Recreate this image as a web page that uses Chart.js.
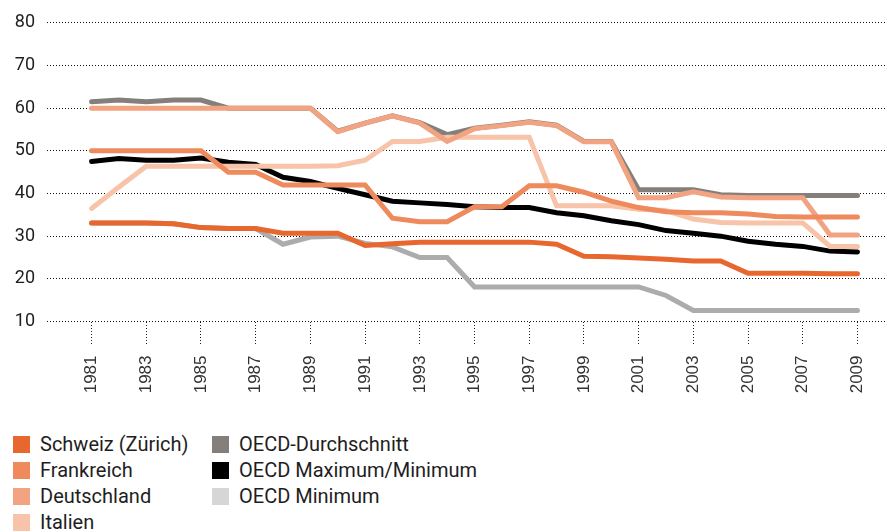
<!DOCTYPE html>
<html>
<head>
<meta charset="utf-8">
<script src="https://cdn.jsdelivr.net/npm/chart.js@4/dist/chart.umd.min.js"></script>
<style>
  html, body { margin: 0; padding: 0; background: #fff; overflow: hidden; }
  #wrap { position: absolute; left: 0; top: 0; width: 892px; height: 425px; }
  #legend {
    position: absolute; left: 13px; top: 431px;
    display: grid; grid-template-columns: 199px auto; grid-auto-flow: column;
    grid-template-rows: repeat(4, 26px);
    font-family: Roboto, sans-serif; font-size: 20px; color: #1e1e1e;
  }
  .item { display: flex; align-items: center; height: 26px; white-space: nowrap; }
  .box { width: 17px; height: 17px; margin-right: 10px; flex: none; }
</style>
</head>
<body>
<div id="wrap"><canvas id="chart"></canvas></div>
<div id="legend"></div>
<script>
const years = [1981, 1982, 1983, 1984, 1985, 1986, 1987, 1988, 1989, 1990,
  1991, 1992, 1993, 1994, 1995, 1996, 1997, 1998, 1999, 2000,
  2001, 2002, 2003, 2004, 2005, 2006, 2007, 2008, 2009];
const tickYears = [1981, 1983, 1985, 1987, 1989, 1991, 1993, 1995, 1997, 1999, 2001, 2003, 2005, 2007, 2009];
const yTicks = [10, 20, 30, 40, 50, 60, 70, 80];

const schweiz = [33.1, 33.1, 33.1, 32.9, 32.0, 31.8, 31.8, 30.7, 30.7, 30.7,
  27.8, 28.2, 28.6, 28.6, 28.6, 28.6, 28.6, 28.1, 25.3, 25.2,
  24.9, 24.6, 24.2, 24.2, 21.3, 21.3, 21.3, 21.2, 21.2];
const frankreich = [50, 50, 50, 50, 50, 45, 45, 42, 42, 42,
  42, 34.2, 33.4, 33.4, 36.9, 36.9, 41.8, 41.8, 40.3, 38.2,
  36.7, 35.7, 35.5, 35.5, 35.2, 34.6, 34.5, 34.5, 34.5];
const deutschland = [60, 60, 60, 60, 60, 60, 60, 60, 60, 54.5,
  56.5, 58.2, 56.5, 52.2, 55.2, 55.9, 56.7, 55.9, 52.1, 52.1,
  39, 39, 40.4, 39.2, 39, 39, 39, 30.3, 30.3];
const italien = [36.5, 41.5, 46.4, 46.4, 46.4, 46.4, 46.4, 46.4, 46.4, 46.5,
  47.8, 52.2, 52.2, 53.2, 53.2, 53.2, 53.2, 37.1, 37.1, 37.1,
  36.3, 36.0, 34.0, 33.2, 33.1, 33.1, 33.1, 27.6, 27.6];
const oecdAvg = [61.5, 61.9, 61.5, 61.9, 61.9, 60, 60, 60, 60, 54.6,
  56.5, 58.2, 56.6, 53.8, 55.3, 56, 56.8, 56, 52.2, 52.2,
  40.9, 40.9, 40.9, 39.7, 39.5, 39.5, 39.5, 39.5, 39.5];
const oecdMax = [47.5, 48.2, 47.8, 47.8, 48.3, 47.3, 46.8, 43.8, 42.8, 41.2,
  39.7, 38.2, 37.8, 37.4, 36.9, 36.7, 36.7, 35.5, 34.8, 33.6,
  32.7, 31.3, 30.7, 30.0, 28.8, 28.1, 27.6, 26.5, 26.3];
const oecdMin = [33.1, 33.1, 33.1, 32.9, 32.0, 31.8, 31.8, 28.1, 29.8, 30.0,
  28.3, 27.5, 25.0, 25.0, 18.1, 18.1, 18.1, 18.1, 18.1, 18.1,
  18.1, 16.1, 12.6, 12.6, 12.6, 12.6, 12.6, 12.6, 12.6];

// first entry is drawn on top
const series = [
  { label: 'Schweiz (Zürich)', data: schweiz, color: '#e8672e', box: '#e8672e' },
  { label: 'Frankreich', data: frankreich, color: '#ee8a5c', box: '#ee8a5c' },
  { label: 'Deutschland', data: deutschland, color: '#f2a482', box: '#f2a482' },
  { label: 'Italien', data: italien, color: '#f7c3a9', box: '#f7c3a9' },
  { label: 'OECD-Durchschnitt', data: oecdAvg, color: '#857f7b', box: '#857f7b' },
  { label: 'OECD Maximum/Minimum', data: oecdMax, color: '#000000', box: '#000000' },
  { label: 'OECD Minimum', data: oecdMin, color: '#acacac', box: '#d6d6d6' },
];

const legend = document.getElementById('legend');
series.forEach(s => {
  const item = document.createElement('div');
  item.className = 'item';
  item.innerHTML = `<span class="box" style="background:${s.box}"></span><span>${s.label}</span>`;
  legend.appendChild(item);
});

new Chart(document.getElementById('chart'), {
  type: 'line',
  data: {
    datasets: series.map(s => ({
      label: s.label,
      data: s.data.map((v, i) => ({ x: years[i], y: v })),
      borderColor: s.color,
      backgroundColor: s.color,
      borderWidth: 5,
      borderCapStyle: 'round',
      borderJoinStyle: 'miter',
      pointRadius: 0,
      tension: 0,
      fill: false,
    })),
  },
  options: {
    responsive: true,
    maintainAspectRatio: false,
    animation: false,
    layout: { padding: { top: 19, right: 5, left: 0, bottom: 0 } },
    plugins: { legend: { display: false }, tooltip: { enabled: false } },
    scales: {
      x: {
        type: 'linear',
        min: 1979.37,
        max: 2010.08,
        afterBuildTicks: axis => { axis.ticks = tickYears.map(v => ({ value: v })); },
        afterFit: axis => { axis.height = 103.5; },
        border: { display: false },
        grid: {
          drawOnChartArea: false,
          drawTicks: true,
          tickLength: 24,
          tickColor: '#222',
          tickBorderDash: [1, 2],
          tickWidth: 1,
        },
        ticks: {
          autoSkip: false,
          minRotation: 90,
          maxRotation: 90,
          padding: 10,
          color: '#333',
          font: { family: '"Liberation Sans", Arial, sans-serif', size: 17 },
          callback: v => String(v),
        },
      },
      y: {
        min: 10,
        max: 80,
        afterBuildTicks: axis => { axis.ticks = yTicks.map(v => ({ value: v })); },
        afterFit: axis => { axis.width = 47; },
        // in v4 the grid line dash comes from border.dash
        border: { display: false, dash: [1, 2] },
        grid: {
          color: '#111',
          lineWidth: 1,
          drawTicks: false,
        },
        ticks: {
          padding: 12,
          color: '#1e1e1e',
          font: { family: 'Roboto, sans-serif', size: 18 },
        },
      },
    },
  },
});
</script>
</body>
</html>
